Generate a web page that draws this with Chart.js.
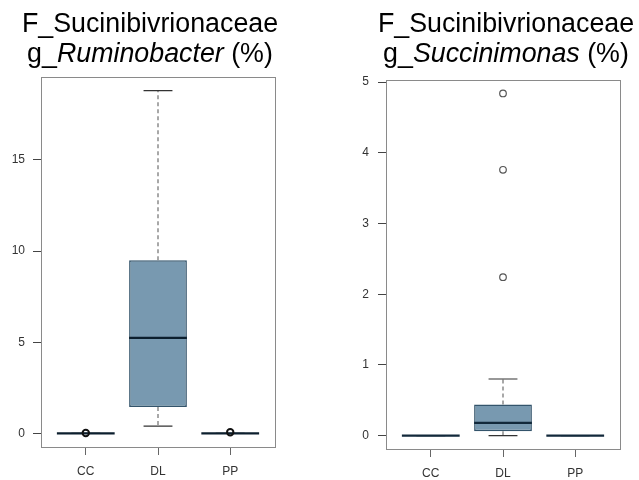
<!DOCTYPE html>
<html>
<head>
<meta charset="utf-8">
<script src="https://cdn.jsdelivr.net/npm/chart.js@4.4.1/dist/chart.umd.min.js"></script>
<style>
  html, body { margin: 0; padding: 0; background: #fff; overflow: hidden; }
  #page { position: relative; width: 639px; height: 480px; }
  canvas { position: absolute; top: 0; }
  .title {
    position: absolute; top: 8px; width: 300px; text-align: center;
    font-family: "Liberation Sans", Arial, sans-serif; font-size: 26.8px;
    line-height: 30px; color: #000; white-space: nowrap;
  }
</style>
</head>
<body>
<div id="page">
  <canvas id="leftChart" width="320" height="480" style="left:0"></canvas>
  <canvas id="rightChart" width="319" height="480" style="left:320px"></canvas>
  <div class="title" style="left:0">F_Sucinibivrionaceae<br>g_<i>Ruminobacter</i> (%)</div>
  <div class="title" style="left:356px">F_Sucinibivrionaceae<br>g_<i>Succinimonas</i> (%)</div>
</div>
<script>
// groups on the x axis
var groups = ['CC', 'DL', 'PP'];

// g_Ruminobacter (%)
var rumLow = [0, 0.4, 0];
var rumQ1 = [0, 1.45, 0];
var rumMedian = [0, 5.24, 0];
var rumQ3 = [0, 9.5, 0];
var rumHigh = [0, 18.8, 0];
var rumOutliers = [[0.02], [], [0.06]];
var rumTicks = [0, 5, 10, 15];

// g_Succinimonas (%)
var sucLow = [0, 0, 0];
var sucQ1 = [0, 0.06, 0];
var sucMedian = [0, 0.18, 0];
var sucQ3 = [0, 0.44, 0];
var sucHigh = [0, 0.8, 0];
var sucOutliers = [[], [2.24, 3.76, 4.84], []];
var sucTicks = [0, 1, 2, 3, 4, 5];

var BOX_HALF = 0.4;
var CAP_HALF = 0.2;

// horizontal segments at each group, split by gaps
var hSegments = function(values, half) {
    var pts = [];
    values.forEach(function(v, i) {
        pts.push({x: i + 1 - half, y: v});
        pts.push({x: i + 1 + half, y: v});
        pts.push({x: i + 1 + half, y: NaN});
    });
    return pts;
};

// vertical whisker segments from box edge to whisker end
var vSegments = function(from, to) {
    var pts = [];
    from.forEach(function(v, i) {
        pts.push({x: i + 1, y: v});
        pts.push({x: i + 1, y: to[i]});
        pts.push({x: i + 1, y: NaN});
    });
    return pts;
};

var framePlugin = {
    id: 'frame',
    afterDatasetsDraw: function(chart) {
        var a = chart.chartArea;
        var ctx = chart.ctx;
        ctx.save();
        ctx.strokeStyle = '#8a8a8a';
        ctx.lineWidth = 1;
        ctx.strokeRect(Math.round(a.left) + 0.5, Math.round(a.top) + 0.5,
            Math.round(a.right - a.left), Math.round(a.bottom - a.top));
        ctx.restore();
    }
};

var makeBoxChart = function(canvasId, d, cfg) {
    var outPts = [];
    d.outliers.forEach(function(list, i) {
        list.forEach(function(v) {
            outPts.push({x: i + 1, y: v});
        });
    });

    var lineBase = {type: 'line', pointRadius: 0, fill: false, tension: 0, spanGaps: false};

    new Chart(document.getElementById(canvasId), {
        type: 'bar',
        data: {
            datasets: [
                {
                    type: 'scatter',
                    data: outPts,
                    pointRadius: cfg.outRadius,
                    pointBorderWidth: cfg.outWidth,
                    pointBorderColor: cfg.outColor,
                    pointBackgroundColor: 'rgba(255,255,255,0)',
                    order: 0
                },
                Object.assign({}, lineBase, {
                    data: hSegments(d.median, BOX_HALF),
                    borderColor: cfg.medColor,
                    borderWidth: cfg.medWidth,
                    order: 1
                }),
                Object.assign({}, lineBase, {
                    data: hSegments(d.high, CAP_HALF).concat(hSegments(d.low, CAP_HALF)),
                    borderColor: '#333',
                    borderWidth: 1.2,
                    order: 2
                }),
                Object.assign({}, lineBase, {
                    data: vSegments(d.q3, d.high).concat(vSegments(d.q1, d.low)),
                    borderColor: '#7a7a7a',
                    borderWidth: 1.3,
                    borderDash: [4, 3],
                    order: 3
                }),
                {
                    type: 'bar',
                    data: groups.map(function(g, i) {
                        return {x: i + 1, y: [d.q1[i], d.q3[i]]};
                    }),
                    backgroundColor: '#7899b0',
                    borderColor: '#33546b',
                    borderWidth: 1.5,
                    borderSkipped: false,
                    barPercentage: 1,
                    categoryPercentage: 0.8,
                    order: 5
                }
            ]
        },
        options: {
            responsive: false,
            animation: false,
            events: [],
            layout: {padding: {top: cfg.padTop, right: cfg.padRight, left: 0, bottom: 0}},
            plugins: {legend: {display: false}, tooltip: {enabled: false}},
            scales: {
                x: {
                    type: 'linear',
                    min: 0.38,
                    max: 3.62,
                    offset: false,
                    afterBuildTicks: function(s) {
                        s.ticks = groups.map(function(g, i) { return {value: i + 1}; });
                    },
                    afterFit: function(s) { s.height = cfg.xHeight; },
                    ticks: {
                        autoSkip: false,
                        maxRotation: 0,
                        padding: 9,
                        color: '#333',
                        font: {family: 'Liberation Sans', size: 12},
                        callback: function(v) { return groups[v - 1]; }
                    },
                    grid: {
                        offset: false,
                        drawOnChartArea: false,
                        drawTicks: true,
                        tickLength: 8,
                        tickColor: '#666'
                    },
                    border: {display: true, color: '#8a8a8a'}
                },
                y: {
                    min: cfg.yMin,
                    max: cfg.yMax,
                    afterBuildTicks: function(s) {
                        s.ticks = cfg.ticks.map(function(v) { return {value: v}; });
                    },
                    afterFit: function(s) { s.width = cfg.yWidth; },
                    ticks: {
                        padding: cfg.yPad,
                        color: '#333',
                        font: {family: 'Liberation Sans', size: 12}
                    },
                    grid: {
                        drawOnChartArea: false,
                        drawTicks: true,
                        tickLength: 8,
                        tickColor: '#444'
                    },
                    border: {display: true, color: '#444'}
                }
            }
        },
        plugins: [framePlugin]
    });
};

makeBoxChart('leftChart', {
    low: rumLow, q1: rumQ1, median: rumMedian, q3: rumQ3, high: rumHigh, outliers: rumOutliers
}, {
    yMin: -0.75, yMax: 19.55, ticks: rumTicks,
    padTop: 77, padRight: 45, yWidth: 41, xHeight: 33, yPad: 8,
    medColor: '#0c1f2e', medWidth: 2.3,
    outRadius: 3.2, outWidth: 2, outColor: '#111'
});

makeBoxChart('rightChart', {
    low: sucLow, q1: sucQ1, median: sucMedian, q3: sucQ3, high: sucHigh, outliers: sucOutliers
}, {
    yMin: -0.19, yMax: 5.03, ticks: sucTicks,
    padTop: 80, padRight: 19, yWidth: 66, xHeight: 31, yPad: 9,
    medColor: '#12293b', medWidth: 2.3,
    outRadius: 3.3, outWidth: 1.2, outColor: '#555'
});
</script>
</body>
</html>
